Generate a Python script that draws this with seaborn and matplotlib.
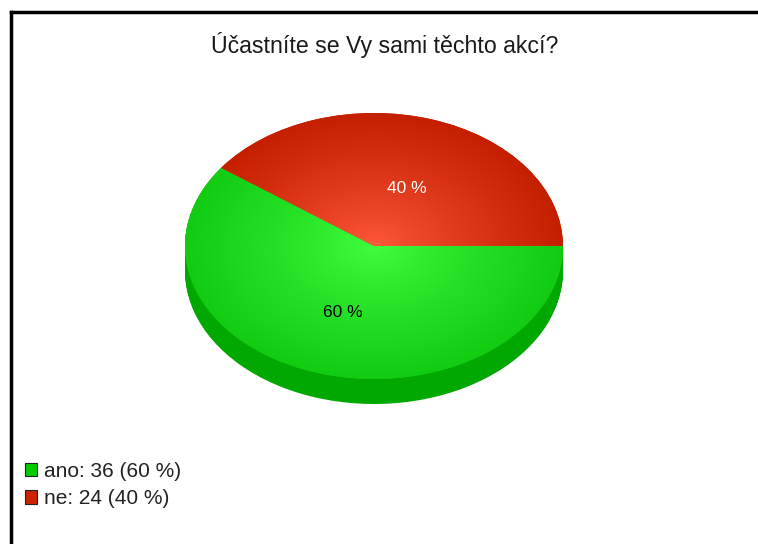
import numpy as np
import matplotlib
matplotlib.use('Agg')
import matplotlib.pyplot as plt
import seaborn as sns
from matplotlib.patches import Patch

# --- Data ---
TITLE = 'Účastníte se Vy sami těchto akcí?'
categories = ['ano', 'ne']
counts = [36, 24]
top_colors = ['#12cc12', '#c42000']
center_colors = ['#40ff40', '#ff5a3c']
side_colors = ['#00a800', 'none']
label_colors = ['black', 'white']
legend_fill = ['#00cc00', '#cc2200']

W, H = 758, 544

sns.set_theme(style='white')
plt.rcParams['font.family'] = ['Liberation Sans', 'DejaVu Sans']

fig = plt.figure(figsize=(W / 100, H / 100), dpi=100, facecolor='white')


def px_axes(left, top, right, bottom):
    return fig.add_axes([left / W, 1 - bottom / H, (right - left) / W, (bottom - top) / H])


# --- Frame (left and top only, the screenshot cuts off the rest) ---
frame = px_axes(11, 12.3, W + 5, H + 5)
frame.set_xticks([])
frame.set_yticks([])
sns.despine(ax=frame, top=False, right=True, left=False, bottom=True)
for side in ['left', 'top']:
    frame.spines[side].set_color('black')
    frame.spines[side].set_linewidth(2.5)

# --- Pie: the ellipse comes from the axes box, not from the wedge data ---
DEPTH = 25 / 133
ax = px_axes(185, 113, 563, 379 + 25 + 3)
ax.patch.set_alpha(0)

for shift in np.linspace(DEPTH, 0.002, 26):
    ax.pie(counts, colors=side_colors, startangle=144, center=(0, -shift), radius=1,
           wedgeprops={'linewidth': 0})

wedges, _ = ax.pie(counts, colors=top_colors, startangle=144, radius=1,
                   wedgeprops={'linewidth': 0})

# radial shading on the top face
yy, xx = np.mgrid[-1:1:400j, -1:1:400j]
rr = np.clip(np.hypot(xx, yy), 0, 1)[..., None] ** 0.8
for wedge, c0, c1 in zip(wedges, center_colors, top_colors):
    a = np.array(matplotlib.colors.to_rgb(c0))
    b = np.array(matplotlib.colors.to_rgb(c1))
    im = ax.imshow(a * (1 - rr) + b * rr, extent=(-1, 1, -1, 1), zorder=3, origin='lower')
    im.set_clip_path(wedge)

ax.set_aspect('auto')
ax.set_xlim(-1, 1)
ax.set_ylim(-1 - 28 / 133, 1)

# slice labels
total = sum(counts)
label_pos = [(-0.165, -0.5), (0.175, 0.43)]
for value, color, (x, y) in zip(counts, label_colors, label_pos):
    ax.text(x, y, f'{value / total:.0%}'.replace('%', ' %'), color=color,
            ha='center', va='center', fontsize=12.5, zorder=5)

# --- Title ---
fig.text(385 / W, 1 - 45 / H, TITLE, ha='center', va='center', fontsize=16.7, color='#1a1a1a')

# --- Legend ---
handles = [Patch(facecolor=c, edgecolor='#222222', linewidth=0.8) for c in legend_fill]
labels = [f'{n}: {v} ({v / total:.0%})'.replace('%)', ' %)') for n, v in zip(categories, counts)]
fig.legend(handles, labels, loc='upper left', bbox_to_anchor=(25 / W, 1 - 462 / H), frameon=False,
           fontsize=15, handlelength=0.58, handleheight=0.6, handletextpad=0.32,
           labelspacing=0.4, borderpad=0, borderaxespad=0, labelcolor='#222222')

fig.savefig('out.png', dpi=100)
plt.close(fig)
